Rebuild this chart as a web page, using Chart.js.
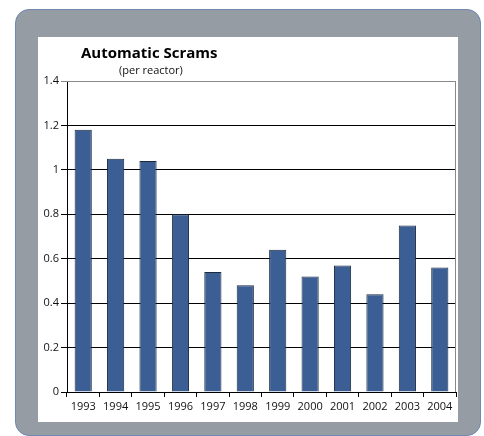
<!DOCTYPE html>
<html>
<head>
<meta charset="utf-8">
<script src="https://cdn.jsdelivr.net/npm/chart.js@4.4.0/dist/chart.umd.min.js"></script>
<style>
  body { margin: 0; background: #fff; font-family: "Open Sans", "DejaVu Sans", sans-serif; }
  #panel { position: absolute; left: 15px; top: 9px; width: 464px; height: 425px;
           background: #959ca3; border: 1px solid #7089b3; border-radius: 14px; }
  #inner { position: absolute; left: 38px; top: 37px; width: 420px; height: 385px; background: #fff; }
  #title { position: absolute; left: 43px; top: 5px; font-weight: bold; font-size: 15px; color: #000; }
  #sub { position: absolute; left: 81px; top: 25px; font-size: 11px; color: #111; }
  canvas { position: absolute; left: 0; top: 0; }
</style>
</head>
<body>
<div id="panel"></div>
<div id="inner">
  <canvas id="chart" width="420" height="385"></canvas>
  <div id="title">Automatic Scrams</div>
  <div id="sub">(per reactor)</div>
</div>
<script>
const years = ["1993", "1994", "1995", "1996", "1997", "1998", "1999", "2000", "2001", "2002", "2003", "2004"];
const scrams = [1.18, 1.05, 1.04, 0.80, 0.54, 0.48, 0.64, 0.52, 0.57, 0.44, 0.75, 0.56];

// gray frame on the top and right of the plot
const frame = {
    id: 'frame',
    afterDraw(chart) {
        const a = chart.chartArea;
        const ctx = chart.ctx;
        ctx.save();
        ctx.strokeStyle = '#888';
        ctx.lineWidth = 1;
        ctx.beginPath();
        ctx.moveTo(a.left, a.top + 0.5);
        ctx.lineTo(a.right - 0.5, a.top + 0.5);
        ctx.lineTo(a.right - 0.5, a.bottom);
        ctx.stroke();
        ctx.restore();
    }
};

new Chart(document.getElementById('chart'), {
    type: 'bar',
    data: {
        labels: years,
        datasets: [{
            data: scrams,
            backgroundColor: '#3b5e94',
            borderColor: '#1c2a3e',
            borderWidth: 1,
            categoryPercentage: 1,
            barPercentage: 0.53
        }]
    },
    options: {
        responsive: false,
        animation: false,
        layout: { padding: { left: 0, top: 44, right: 2, bottom: 0 } },
        plugins: { legend: { display: false }, tooltip: { enabled: false } },
        scales: {
            x: {
                afterFit(s) { s.height = 30; },
                grid: { offset: true, drawOnChartArea: false, color: '#000', tickLength: 5 },
                border: { color: '#000' },
                ticks: { color: '#111', font: { size: 11, family: 'Open Sans' }, padding: 3, maxRotation: 0 }
            },
            y: {
                min: 0,
                max: 1.4,
                afterFit(s) { s.width = 29; },
                grid: {
                    color: (c) => c.tick && c.tick.value >= 1.4 ? '#888' : '#000',
                    tickLength: 6
                },
                border: { color: '#000' },
                ticks: {
                    stepSize: 0.2,
                    color: '#111',
                    font: { size: 11, family: 'Open Sans' },
                    padding: 2,
                    callback: (v) => String(parseFloat(v.toFixed(1)))
                }
            }
        }
    },
    plugins: [frame]
});
</script>
</body>
</html>
